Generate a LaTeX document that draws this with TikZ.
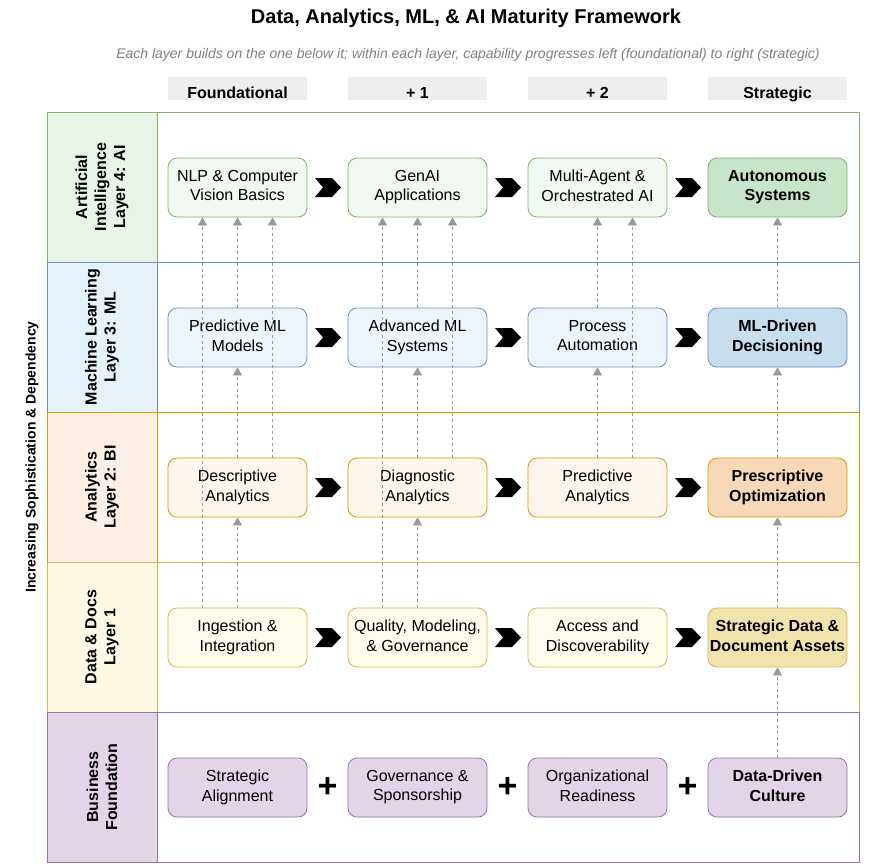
\documentclass[tikz,border=0pt]{standalone}
\usepackage{fontspec}
\setmainfont{Liberation Sans}
\usetikzlibrary{arrows.meta,calc}
\definecolor{aiB}{HTML}{82B366}
\definecolor{aiL}{HTML}{E7F4E7}
\definecolor{aiN}{HTML}{F1F8F1}
\definecolor{aiS}{HTML}{C7E5C8}
\definecolor{mlB}{HTML}{6C8EBF}
\definecolor{mlL}{HTML}{E6F2F9}
\definecolor{mlN}{HTML}{EDF4FB}
\definecolor{mlS}{HTML}{C7DEEF}
\definecolor{biB}{HTML}{D79B00}
\definecolor{biL}{HTML}{FDEFE4}
\definecolor{biN}{HTML}{FEF5EC}
\definecolor{biS}{HTML}{F7D8B8}
\definecolor{ddB}{HTML}{D6B656}
\definecolor{ddL}{HTML}{FEF8E5}
\definecolor{ddN}{HTML}{FFFCEE}
\definecolor{ddS}{HTML}{F2E3AD}
\definecolor{bfB}{HTML}{9673A6}
\definecolor{bfL}{HTML}{E1D5E7}
\definecolor{hdrF}{HTML}{EEEEEE}
\definecolor{depC}{HTML}{999999}
\definecolor{subC}{HTML}{808080}
\newcommand\boxtopstrut{\rule{0pt}{18.4pt}}
\newcommand\boxbotstrut{\rule[-4pt]{0pt}{4pt}}
\tikzset{
  box/.style={rounded corners=9pt, minimum width=139pt, minimum height=59pt,
    align=center, inner sep=0pt, line width=0.8pt,
    font=\fontsize{16}{19.5}\selectfont,
    execute at begin node=\boxtopstrut, execute at end node=\boxbotstrut},
  aibox/.style={box, draw=aiB, fill=aiN},
  aistrat/.style={aibox, fill=aiS, font=\bfseries\fontsize{16}{19.5}\selectfont},
  mlbox/.style={box, draw=mlB, fill=mlN},
  mlstrat/.style={mlbox, fill=mlS, font=\bfseries\fontsize{16}{19.5}\selectfont},
  bibox/.style={box, draw=biB, fill=biN},
  bistrat/.style={bibox, fill=biS, font=\bfseries\fontsize{16}{19.5}\selectfont},
  ddbox/.style={box, draw=ddB, fill=ddN},
  ddstrat/.style={ddbox, fill=ddS, font=\bfseries\fontsize{16}{19.5}\selectfont},
  bfbox/.style={box, draw=bfB, fill=bfL},
  bfstrat/.style={bfbox, font=\bfseries\fontsize{16}{19.5}\selectfont},
  hdr/.style={fill=hdrF, minimum width=139pt, minimum height=23pt, inner sep=0pt},
  hdrtext/.style={font=\bfseries\fontsize{16}{19}\selectfont, anchor=base},
  layerlbl/.style={rotate=90, align=center, font=\bfseries\fontsize{16}{19}\selectfont},
  dep/.style={draw=depC, line width=0.8pt, dash pattern=on 3pt off 3pt,
    -{Triangle[length=8pt,width=9pt]}},
  plussign/.style={font=\bfseries\fontsize{34}{34}\selectfont, inner sep=0pt},
  chev/.pic={\fill[black] (-13,-9.5) -- (4,-9.5) -- (13,0) -- (4,9.5) -- (-13,9.5) -- (-5,0) -- cycle;}
}
\begin{document}
\begin{tikzpicture}[x=1pt,y=-1pt]
\useasboundingbox (0,0) rectangle (888,863);
\fill[white] (0,0) rectangle (888,863);

% title
\node[font=\bfseries\fontsize{20}{24}\selectfont] (title) at (466,18) {Data, Analytics, ML, \& AI Maturity Framework};
\node[font=\itshape\fontsize{14}{17}\selectfont, text=subC] (subtitle) at (468,55) {Each layer builds on the one below it; within each layer, capability progresses left (foundational) to right (strategic)};

% headers
\node[hdr] (h1) at (237.5,88.5) {};
\node[hdr] (h2) at (417.5,88.5) {};
\node[hdr] (h3) at (597.5,88.5) {};
\node[hdr] (h4) at (777.5,88.5) {};
\node[hdrtext] (h1t) at (237.5,98) {Foundational};
\node[hdrtext] (h2t) at (417.5,98) {+ 1};
\node[hdrtext] (h3t) at (597.5,98) {+ 2};
\node[hdrtext] (h4t) at (777.5,98) {Strategic};

% rows
\draw[draw=aiB, fill=aiL, line width=0.8pt] (47,112) rectangle (157,262);
\draw[draw=aiB, line width=0.8pt] (157,112) rectangle (859,262);
\draw[draw=mlB, fill=mlL, line width=0.8pt] (47,262) rectangle (157,412);
\draw[draw=mlB, line width=0.8pt] (157,262) rectangle (859,412);
\draw[draw=biB, fill=biL, line width=0.8pt] (47,412) rectangle (157,562);
\draw[draw=biB, line width=0.8pt] (157,412) rectangle (859,562);
\draw[draw=ddB, fill=ddL, line width=0.8pt] (47,562) rectangle (157,712);
\draw[draw=ddB, line width=0.8pt] (157,562) rectangle (859,712);
\draw[draw=bfB, fill=bfL, line width=0.8pt] (47,712) rectangle (157,862);
\draw[draw=bfB, line width=0.8pt] (157,712) rectangle (859,862);

% layer labels
\node[layerlbl] (lai) at (102,187) {Artificial\\Intelligence\\Layer 4: AI};
\node[layerlbl] (lml) at (102,337) {Machine Learning\\Layer 3: ML};
\node[layerlbl] (lbi) at (102,487) {Analytics\\Layer 2: BI};
\node[layerlbl] (ldd) at (102,637) {Data \& Docs\\Layer 1};
\node[layerlbl] (lbf) at (102,787) {Business\\Foundation};

\node[rotate=90, font=\bfseries\fontsize{14}{16}\selectfont] (side) at (32,457) {Increasing Sophistication \& Dependency};

% AI row
\node[aibox] (nlp) at (237.5,187.5) {NLP \& Computer\\Vision Basics};
\node[aibox] (genai) at (417.5,187.5) {GenAI\\Applications};
\node[aibox] (multi) at (597.5,187.5) {Multi-Agent \&\\Orchestrated AI};
\node[aistrat] (auto) at (777.5,187.5) {Autonomous\\Systems};
% ML row
\node[mlbox] (pml) at (237.5,337.5) {Predictive ML\\Models};
\node[mlbox] (aml) at (417.5,337.5) {Advanced ML\\Systems};
\node[mlbox] (proc) at (597.5,337.5) {Process\\Automation};
\node[mlstrat] (mld) at (777.5,337.5) {ML-Driven\\Decisioning};
% BI row
\node[bibox] (desc) at (237.5,487.5) {Descriptive\\Analytics};
\node[bibox] (diag) at (417.5,487.5) {Diagnostic\\Analytics};
\node[bibox] (pa) at (597.5,487.5) {Predictive\\Analytics};
\node[bistrat] (presc) at (777.5,487.5) {Prescriptive\\Optimization};
% Data row
\node[ddbox] (ing) at (237.5,637.5) {Ingestion \&\\Integration};
\node[ddbox] (qual) at (417.5,637.5) {Quality, Modeling,\\\& Governance};
\node[ddbox] (acc) at (597.5,637.5) {Access and\\Discoverability};
\node[ddstrat] (sda) at (777.5,637.5) {Strategic Data \&\\Document Assets};
% Business row
\node[bfbox] (sa) at (237.5,787.5) {Strategic\\Alignment};
\node[bfbox] (gs) at (417.5,787.5) {Governance \&\\Sponsorship};
\node[bfbox] (orr) at (597.5,787.5) {Organizational\\Readiness};
\node[bfstrat] (ddc) at (777.5,787.5) {Data-Driven\\Culture};

% chevrons
\foreach \a/\b in {nlp/genai,genai/multi,multi/auto,pml/aml,aml/proc,proc/mld,desc/diag,diag/pa,pa/presc,ing/qual,qual/acc,acc/sda}{
  \pic at ($(\a.east)!0.5!(\b.west)+(0.5,0)$) {chev};
}
% plus signs
\node[plussign] (p1) at ($(sa.east)!0.5!(gs.west)$) {+};
\node[plussign] (p2) at ($(gs.east)!0.5!(orr.west)$) {+};
\node[plussign] (p3) at ($(orr.east)!0.5!(ddc.west)$) {+};

% dependencies, column 1
\draw[dep] ([xshift=-35pt]ing.north) -- ([xshift=-35pt]nlp.south);
\draw[dep] (ing.north) -- (desc.south);
\draw[dep] (desc.north) -- (pml.south);
\draw[dep] (pml.north) -- (nlp.south);
\draw[dep] ([xshift=35pt]desc.north) -- ([xshift=35pt]nlp.south);
% column 2
\draw[dep] ([xshift=-35pt]qual.north) -- ([xshift=-35pt]genai.south);
\draw[dep] (qual.north) -- (diag.south);
\draw[dep] (diag.north) -- (aml.south);
\draw[dep] (aml.north) -- (genai.south);
\draw[dep] ([xshift=35pt]diag.north) -- ([xshift=35pt]genai.south);
% column 3
\draw[dep] (pa.north) -- (proc.south);
\draw[dep] (proc.north) -- (multi.south);
\draw[dep] ([xshift=35pt]pa.north) -- ([xshift=35pt]multi.south);
% column 4
\draw[dep] (ddc.north) -- (sda.south);
\draw[dep] (sda.north) -- (presc.south);
\draw[dep] (presc.north) -- (mld.south);
\draw[dep] (mld.north) -- (auto.south);
\end{tikzpicture}
\end{document}
